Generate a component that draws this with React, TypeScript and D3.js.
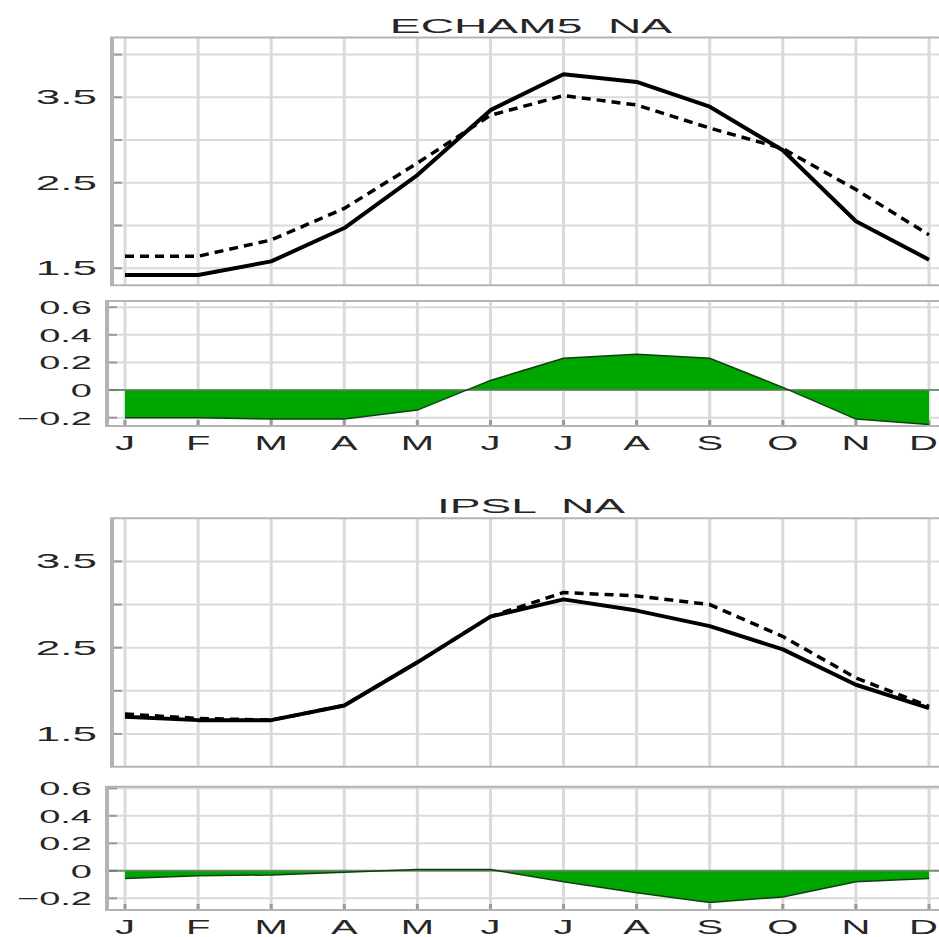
import * as d3 from "d3";

const months = ["J", "F", "M", "A", "M", "J", "J", "A", "S", "O", "N", "D"];

// ECHAM5 NA
const echamModel = [1.42, 1.42, 1.58, 1.97, 2.59, 3.35, 3.77, 3.68, 3.39, 2.88, 2.05, 1.6];
const echamRef = [1.64, 1.64, 1.83, 2.2, 2.73, 3.29, 3.52, 3.41, 3.14, 2.9, 2.42, 1.89];
const echamDiff = [-0.2, -0.2, -0.21, -0.21, -0.145, 0.07, 0.23, 0.26, 0.23, 0.02, -0.21, -0.25];

// IPSL NA
const ipslModel = [1.7, 1.66, 1.66, 1.83, 2.33, 2.86, 3.06, 2.93, 2.75, 2.48, 2.07, 1.8];
const ipslRef = [1.73, 1.68, 1.66, 1.83, 2.33, 2.86, 3.14, 3.1, 3.0, 2.63, 2.15, 1.82];
const ipslDiff = [-0.055, -0.036, -0.03, -0.01, 0.01, 0.01, -0.08, -0.16, -0.23, -0.19, -0.08, -0.055];

const mainTicks = [1.5, 2.5, 3.5];
const mainGrid = [1.5, 2.0, 2.5, 3.0, 3.5, 4.0];
const diffTicks = [-0.2, 0, 0.2, 0.4, 0.6];

const FONT = "'Liberation Sans', Arial, sans-serif";
const TXT = "#262626";
const GRID = "#dadada";
const FRAME = "#b4b4b4";

const x = d3.scaleLinear().domain([0, 11]).range([125, 929]);

function Wide({ x, y, size, sx, anchor, children }: any) {
  return (
    <text
      transform={`translate(${x},${y}) scale(${sx},1)`}
      fontFamily={FONT}
      fontSize={size}
      fill={TXT}
      textAnchor={anchor}
      style={{ whiteSpace: "pre" }}
    >
      {children}
    </text>
  );
}

function fmt(v: number) {
  if (v === 0) return "0";
  const s = v.toFixed(1);
  return s.replace("-", "\u2212");
}

function MainPanel({ top, bottom, domain, model, ref, title }: any) {
  const left = 110;
  const right = 941;
  const y = d3.scaleLinear().domain(domain).range([bottom, top]);
  const line = d3
    .line<number>()
    .x((_, i) => x(i))
    .y((d) => y(d));
  const grid = mainGrid.filter((g) => g >= domain[0] && g < domain[1] - 0.01);
  return (
    <g>
      <Wide x={531} y={top - 5} size={21} sx={2.2} anchor="middle">
        {title}
      </Wide>
      {months.map((_, i) => (
        <line key={"v" + i} x1={x(i)} x2={x(i)} y1={top} y2={bottom} stroke={GRID} strokeWidth={3} />
      ))}
      {grid.map((g) => (
        <line key={"h" + g} x1={left} x2={right} y1={y(g)} y2={y(g)} stroke={GRID} strokeWidth={2} />
      ))}
      {grid.map((g) => (
        <line key={"t" + g} x1={left} x2={left + 12} y1={y(g)} y2={y(g)} stroke="#9a9a9a" strokeWidth={2} />
      ))}
      <line x1={left} x2={right} y1={top} y2={top} stroke={FRAME} strokeWidth={2} />
      <line x1={left} x2={right} y1={bottom} y2={bottom} stroke={FRAME} strokeWidth={2} />
      <line x1={left + 2} x2={left + 2} y1={top} y2={bottom} stroke={FRAME} strokeWidth={4} />
      {mainTicks.map((t) => (
        <Wide key={"l" + t} x={97} y={y(t) + 7} size={20} sx={2.2} anchor="end">
          {t.toFixed(1)}
        </Wide>
      ))}
      <path d={line(ref) || ""} fill="none" stroke="#000" strokeWidth={3.5} strokeDasharray="9 6" />
      <path d={line(model) || ""} fill="none" stroke="#000" strokeWidth={4} strokeLinejoin="round" />
    </g>
  );
}

function DiffPanel({ top, bottom, domain, diff }: any) {
  const left = 105;
  const right = 941;
  const y = d3.scaleLinear().domain(domain).range([bottom, top]);
  const area = d3
    .area<number>()
    .x((_, i) => x(i))
    .y0(y(0))
    .y1((d) => y(d));
  const line = d3
    .line<number>()
    .x((_, i) => x(i))
    .y((d) => y(d));
  return (
    <g>
      {months.map((_, i) => (
        <line key={"v" + i} x1={x(i)} x2={x(i)} y1={top} y2={bottom} stroke={GRID} strokeWidth={3} />
      ))}
      {diffTicks.map((g) => (
        <line key={"h" + g} x1={left} x2={right} y1={y(g)} y2={y(g)} stroke={GRID} strokeWidth={2} />
      ))}
      {diffTicks.map((g) => (
        <line key={"t" + g} x1={left} x2={left + 12} y1={y(g)} y2={y(g)} stroke="#9a9a9a" strokeWidth={2} />
      ))}
      {months.map((_, i) => (
        <line key={"b" + i} x1={x(i)} x2={x(i)} y1={bottom - 6} y2={bottom} stroke="#9a9a9a" strokeWidth={3} />
      ))}
      <path d={area(diff) || ""} fill="#00a600" />
      <line x1={left} x2={right} y1={y(0)} y2={y(0)} stroke="#5d7f5d" strokeWidth={2} opacity={0.8} />
      <path d={line(diff) || ""} fill="none" stroke="#123d12" strokeWidth={1.5} />
      <line x1={left} x2={right} y1={top} y2={top} stroke={FRAME} strokeWidth={2} />
      <line x1={left} x2={right} y1={bottom} y2={bottom} stroke={FRAME} strokeWidth={2} />
      <line x1={left + 2} x2={left + 2} y1={top} y2={bottom} stroke={FRAME} strokeWidth={4} />
      {diffTicks.map((t) => (
        <Wide key={"l" + t} x={92} y={y(t) + 7} size={19} sx={2.0} anchor="end">
          {fmt(t)}
        </Wide>
      ))}
      {months.map((m, i) =>
        i === months.length - 1 ? (
          <Wide key={"m" + i} x={938} y={bottom + 24} size={20} sx={2.0} anchor="end">
            {m}
          </Wide>
        ) : (
          <Wide key={"m" + i} x={x(i)} y={bottom + 24} size={20} sx={2.0} anchor="middle">
            {m}
          </Wide>
        )
      )}
    </g>
  );
}

export default function App() {
  return (
    <svg
      width={939}
      height={937}
      style={{ position: "absolute", left: 0, top: 0, background: "#fff", display: "block" }}
    >
      <rect width={939} height={937} fill="#fff" />
      <MainPanel top={37.5} bottom={285.3} domain={[1.3, 4.2]} model={echamModel} ref={echamRef} title={"ECHAM5  NA"} />
      <DiffPanel top={301} bottom={426} domain={[-0.26, 0.645]} diff={echamDiff} />
      <MainPanel top={518.3} bottom={766.7} domain={[1.12, 4.0]} model={ipslModel} ref={ipslRef} title={"IPSL  NA"} />
      <DiffPanel top={786.7} bottom={910} domain={[-0.285, 0.612]} diff={ipslDiff} />
    </svg>
  );
}
